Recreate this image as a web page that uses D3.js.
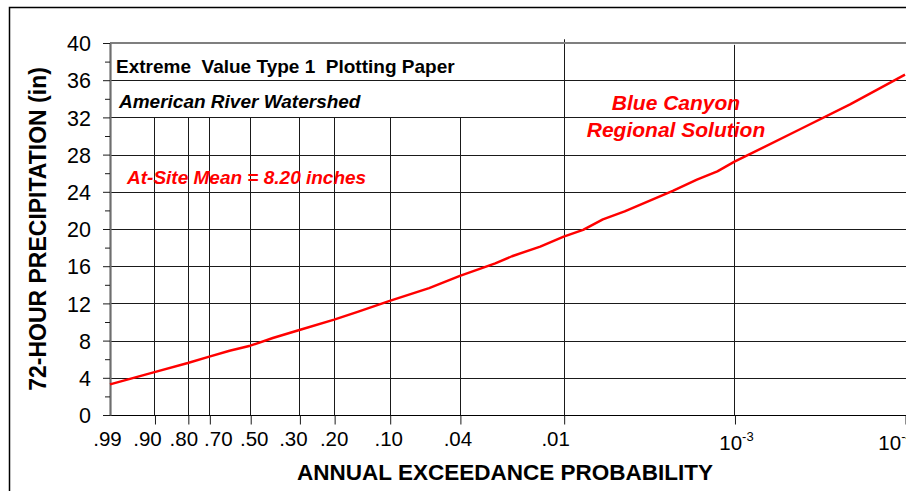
<!DOCTYPE html>
<html><head><meta charset="utf-8">
<script src="https://cdn.jsdelivr.net/npm/d3@7"></script>
<style>
html,body{margin:0;padding:0;background:#fff;}
svg{display:block;font-family:Arial,"Liberation Sans",sans-serif;}
</style></head><body>
<svg id="chart" width="906" height="491"></svg>
<script>
// ---------------- data ----------------
// Annual exceedance probabilities of the vertical grid lines (Gumbel / EV1 paper)
// (the line labelled ".90" sits at about p = 0.92 on the original paper)
const tickProbs   = [0.99, 0.92, 0.80, 0.70, 0.50, 0.30, 0.20, 0.10, 0.04, 0.01, 0.001, 0.0001];
const tickLabels  = [".99", ".90", ".80", ".70", ".50", ".30", ".20", ".10", ".04", ".01", "10^-3", "10^-4"];
// value (in) at which each vertical grid line starts at the top
const gridTopValues = [null, 32, 32, 32, 32, 32, 32, 32, 32, 40.4, 39.8, null];
const yTicks      = [0, 4, 8, 12, 16, 20, 24, 28, 32, 36, 40];
const yMinorTicks = [2, 6, 10, 14, 18, 22, 26, 30, 34, 38];
const yGridValues = [4, 8, 12, 16, 20, 24, 28, 32, 36];

// Blue Canyon regional solution: exceedance probability -> 72-hour precipitation (in)
const curveProb  = [0.99, 0.92, 0.80, 0.70, 0.60, 0.50, 0.40, 0.30, 0.20, 0.15, 0.10, 0.06, 0.04,
                    0.025, 0.02, 0.0137, 0.01, 0.0077, 0.0059, 0.0044, 0.0023, 0.00166, 0.00126,
                    0.001, 0.00041, 0.00021, 0.0001];
const curveValue = [3.30, 4.62, 5.59, 6.27, 6.91, 7.45, 8.28, 9.14, 10.25, 11.10, 12.26, 13.65, 14.95,
                    16.30, 17.07, 18.10, 19.17, 19.90, 21.04, 21.90, 24.10, 25.30, 26.20,
                    27.24, 30.75, 33.40, 36.60];

const titleText   = "Extreme  Value Type 1  Plotting Paper";
const subtitleText = "American River Watershed";
const meanText    = "At-Site Mean = 8.20 inches";
const seriesText  = ["Blue Canyon", "Regional Solution"];
const yTitle      = "72-HOUR PRECIPITATION (in)";
const xTitle      = "ANNUAL EXCEEDANCE PROBABILITY";

// ---------------- layout ----------------
const W = 906, H = 491;
const plot = {left: 110, right: 905, top: 43, bottom: 415};
const labelDx = [-2.5, -7, -4, 9, 4, -6, 0, -1, -2, -8, 2, -9.5];
const gumbel = p => -Math.log(-Math.log(1 - p));

const svg = d3.select("#chart");
const x = d3.scaleLinear().domain([gumbel(0.99), gumbel(0.0001)]).range([plot.left, plot.right]);
const y = d3.scaleLinear().domain([0, 40]).range([plot.bottom, plot.top]);

// outer frame
svg.append("path").attr("d", `M9.5,${H} V7.5 H${W}`)
  .attr("fill", "none").attr("stroke", "#000").attr("stroke-width", 1.5);

// horizontal grid
svg.append("g").selectAll("line").data(yGridValues).join("line")
  .attr("x1", plot.left).attr("x2", W)
  .attr("y1", d => Math.round(y(d)) + 0.5).attr("y2", d => Math.round(y(d)) + 0.5)
  .attr("stroke", "#1a1a1a").attr("stroke-width", 1);

// vertical grid lines
const vgData = tickProbs.map((p, i) => ({v: gumbel(p), top: gridTopValues[i]})).filter(d => d.top !== null);
svg.append("g").selectAll("line").data(vgData).join("line")
  .attr("x1", d => Math.round(x(d.v)) + 0.5).attr("x2", d => Math.round(x(d.v)) + 0.5)
  .attr("y1", d => y(d.top)).attr("y2", plot.bottom)
  .attr("stroke", "#1a1a1a").attr("stroke-width", 1);

// top border of plot area
svg.append("line").attr("x1", plot.left).attr("x2", W)
  .attr("y1", plot.top).attr("y2", plot.top)
  .attr("stroke", "#7f7f7f").attr("stroke-width", 2);

// x axis (ticks below)
const xAxis = d3.axisBottom(x)
  .tickValues(tickProbs.slice(1).map(gumbel))
  .tickSize(9).tickSizeOuter(0).tickFormat("");
const gx = svg.append("g").attr("transform", `translate(0,${plot.bottom + 0.5})`).call(xAxis);
gx.select(".domain").attr("stroke", "#000").attr("stroke-width", 1.2).attr("d", `M${plot.left},0H${W}`);
gx.selectAll(".tick line").attr("stroke", "#1a1a1a").attr("stroke-width", 1)
  .attr("transform", "translate(0.5,0)");

// x tick labels
const xl = svg.append("g").attr("font-size", 20.5).attr("fill", "#000");
tickProbs.forEach((p, i) => {
  const lab = tickLabels[i];
  const cx = x(gumbel(p)) + labelDx[i];
  if (lab.includes("^")) {
    const [base, exp] = lab.split("^");
    const t = xl.append("text").attr("x", cx).attr("y", 450).attr("text-anchor", "middle");
    t.append("tspan").text(base);
    t.append("tspan").attr("font-size", 13).attr("dy", -9).text(exp);
  } else {
    xl.append("text").attr("x", cx).attr("y", 446).attr("text-anchor", "middle").text(lab);
  }
});

// y axis
const gy = svg.append("g").attr("transform", `translate(${plot.left},0)`)
  .call(d3.axisLeft(y).tickValues(yTicks).tickSize(7).tickSizeOuter(0).tickPadding(12));
gy.select(".domain").attr("stroke", "#6e6e6e").attr("stroke-width", 2.2);
gy.selectAll(".tick line").attr("stroke", "#1a1a1a");
gy.selectAll(".tick text").attr("font-size", 21.5).attr("font-family", "Arial, 'Liberation Sans', sans-serif")
  .attr("fill", "#000").attr("dy", "0.36em");
const gym = svg.append("g").attr("transform", `translate(${plot.left},0)`)
  .call(d3.axisLeft(y).tickValues(yMinorTicks).tickSize(5).tickSizeOuter(0).tickFormat(""));
gym.select(".domain").remove();
gym.selectAll(".tick line").attr("stroke", "#1a1a1a");

// the curve
const line = d3.line().x(d => x(gumbel(d[0]))).y(d => y(d[1]));
svg.append("path").datum(curveProb.map((p, i) => [p, curveValue[i]]))
  .attr("d", line).attr("fill", "none").attr("stroke", "#ff0000")
  .attr("stroke-width", 2.4).attr("stroke-linejoin", "round");

// texts
svg.append("text").attr("x", 116).attr("y", 73).attr("font-size", 19).attr("font-weight", "bold")
  .style("white-space", "pre").text(titleText);
svg.append("text").attr("x", 119).attr("y", 108).attr("font-size", 19).attr("font-weight", "bold")
  .attr("font-style", "italic").text(subtitleText);
svg.append("text").attr("x", 127).attr("y", 184).attr("font-size", 19).attr("font-weight", "bold")
  .attr("font-style", "italic").attr("fill", "#ff0000").text(meanText);
seriesText.forEach((s, i) => {
  svg.append("text").attr("x", 676).attr("y", 110 + i * 27).attr("text-anchor", "middle")
    .attr("font-size", 21).attr("font-weight", "bold").attr("font-style", "italic")
    .attr("fill", "#ff0000").text(s);
});
svg.append("text").attr("transform", `translate(46,229) rotate(-90)`).attr("text-anchor", "middle")
  .attr("font-size", 23).attr("font-weight", "bold").text(yTitle);
svg.append("text").attr("x", 505).attr("y", 480).attr("text-anchor", "middle")
  .attr("font-size", 22.5).attr("font-weight", "bold").text(xTitle);
</script>
</body></html>
